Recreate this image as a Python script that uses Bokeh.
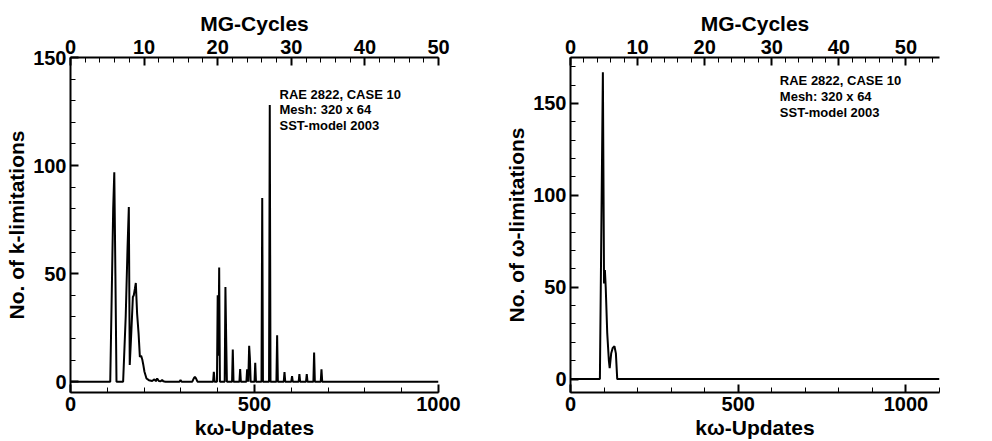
from bokeh.plotting import figure
from bokeh.models import Range1d, LinearAxis, SingleIntervalTicker
from bokeh.layouts import row
from bokeh.core.properties import value
from bokeh.embed import file_html
from bokeh.resources import INLINE

# ---------------- data ----------------
# left panel: number of k-limitations vs. k-omega updates
k_updates = [0, 108, 112, 116, 119, 122, 125, 143, 150, 155, 158.5, 161, 165, 169.5,
             172, 175, 177.5, 181, 185, 188.5, 192, 195, 197.5, 201, 206.5, 213, 222,
             228, 232, 235.5, 240, 245, 249, 252, 258, 296, 299, 302, 331, 335, 338,
             341, 345,
             387.5, 389.5, 391.5, 398, 400, 402, 404, 406,
             419, 421, 423, 425, 439, 441, 443, 459, 461, 463,
             478, 480, 483, 485.5, 487.5, 489.5, 500, 502, 504,
             519, 521, 523, 539.5, 541.5, 543.5, 559.5, 561.5, 563.5,
             579.5, 581.5, 583.5, 600, 602, 604, 620, 622, 624, 640, 642, 644,
             660, 662, 664, 680, 682, 684, 1000]
k_limits = [0, 0, 40, 80, 96.9, 50, 0, 0, 30, 62, 80.8, 7.7, 22, 39.2,
            40, 43, 45.7, 31.5, 22.3, 11.5, 12, 10.3, 8.1, 4.6, 1.5, 0.7, 0.3,
            1.1, 0.2, 1.5, 0.3, 0.2, 0.8, 0.2, 0, 0, 0.8, 0, 0, 1.5, 2.2,
            1.5, 0,
            0, 4.6, 0, 0, 40, 12, 52.8, 0,
            0, 43.8, 20.5, 0, 0, 14.9, 0, 0, 5.8, 0,
            0, 5.7, 0, 16.6, 10.8, 0, 0, 8.8, 0,
            0, 85, 0, 0, 128, 0, 0, 21.5, 0,
            0, 4.4, 0, 0, 2.6, 0, 0, 3.5, 0, 0, 3.5, 0,
            0, 13.5, 0, 0, 5.7, 0, 0]

# right panel: number of omega-limitations vs. k-omega updates
w_updates = [0, 87.6, 96.5, 100, 102.5, 105, 109.5, 114.4, 116.8, 121.4, 126, 131,
             135.3, 139.3, 1100]
w_limits = [0, 0, 167, 52, 59.4, 50, 25, 10, 6, 14.1, 17, 17.9, 14, 0, 0]

ann_lines = ["RAE 2822, CASE 10", "Mesh: 320 x 64", "SST-model 2003"]

FONT = "Liberation Sans"


def style_axis(ax, interval, label):
    ax.ticker = SingleIntervalTicker(interval=interval, num_minor_ticks=5)
    ax.axis_label = label
    ax.axis_line_width = 2
    ax.axis_line_color = "black"
    ax.major_tick_in = 8
    ax.major_tick_out = 0
    ax.minor_tick_in = 5
    ax.minor_tick_out = 0
    ax.major_tick_line_width = 2
    ax.minor_tick_line_width = 1
    ax.major_tick_line_color = "black"
    ax.minor_tick_line_color = "black"
    ax.major_label_text_font = FONT
    ax.major_label_text_font_size = "20px"
    ax.major_label_text_font_style = "bold"
    ax.major_label_text_color = "black"
    ax.axis_label_text_font = FONT
    ax.axis_label_text_font_size = "21px"
    ax.axis_label_text_font_style = "bold"
    ax.axis_label_text_color = "black"
    ax.major_label_standoff = 4
    ax.axis_label_standoff = 2


def make_panel(xs, ys, xmax, ymin, ymax, mgmax, ylabel, ann_x, ann_y, bl, br):
    p = figure(width=496, height=441, output_backend="svg", toolbar_location=None,
               x_range=Range1d(0, xmax), y_range=Range1d(ymin, ymax),
               min_border_left=bl, min_border_right=br,
               min_border_top=57, min_border_bottom=48)
    p.extra_x_ranges = {"mg": Range1d(0, mgmax)}
    p.grid.visible = False
    p.outline_line_color = None
    p.background_fill_color = "white"
    p.border_fill_color = "white"

    style_axis(p.xaxis[0], 500, "k\u03c9-Updates")
    style_axis(p.yaxis[0], 50, ylabel)

    top = LinearAxis(x_range_name="mg")
    style_axis(top, 10, "MG-Cycles")
    p.add_layout(top, "above")

    p.line(xs, ys, line_color="black", line_width=2)
    p.text(x=[ann_x], y=[ann_y], text=["\n".join(ann_lines)],
           text_font=value(FONT), text_font_style="bold", text_font_size="13px",
           text_baseline="top", text_align="left", text_line_height=1.05,
           text_color="black")
    return p


p1 = make_panel(k_updates, k_limits, 1000, -5, 150, 50, "No. of k-limitations",
                568, 136.5, 70, 58)
p2 = make_panel(w_updates, w_limits, 1100, -7.3, 175, 55, "No. of \u03c9-limitations",
                624, 166.5, 74, 53)

layout = row(p1, p2)
open("out.html", "w").write(file_html(layout, INLINE))
